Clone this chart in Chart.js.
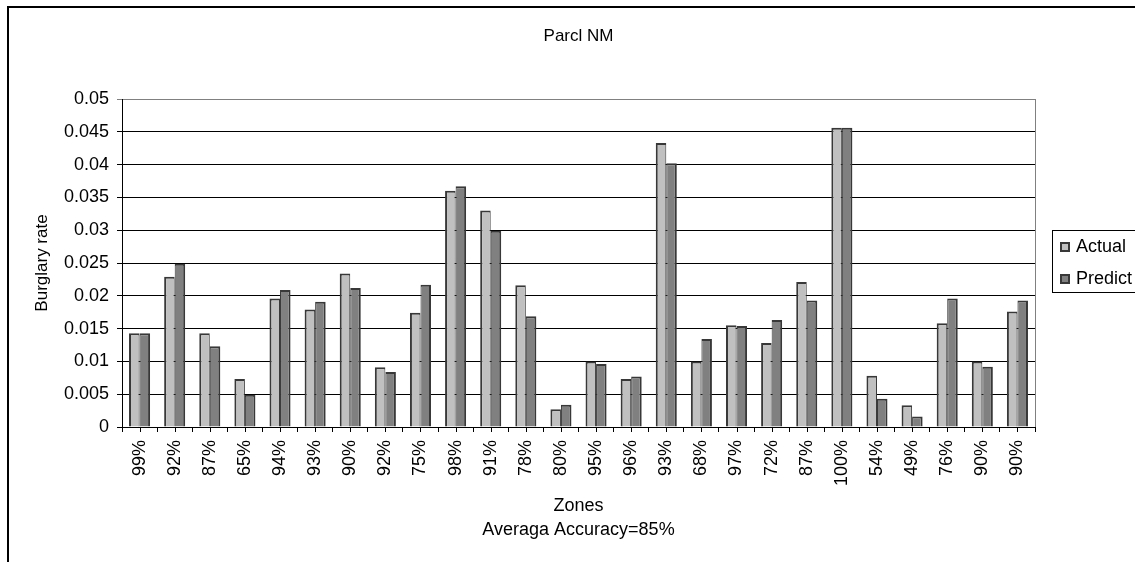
<!DOCTYPE html>
<html>
<head>
<meta charset="utf-8">
<title>Parcl NM</title>
<script src="https://cdn.jsdelivr.net/npm/chart.js@4.4.1/dist/chart.umd.min.js"></script>
<style>
  html, body { margin: 0; padding: 0; background: #fff; }
  #wrap { position: relative; width: 1135px; height: 562px; overflow: hidden; }
  canvas { display: block; }
</style>
</head>
<body>
<div id="wrap"><canvas id="chart" width="1135" height="562"></canvas></div>
<script>
// Zone labels (per-zone prediction accuracy)
const zones = ['99%', '92%', '87%', '65%', '94%', '93%', '90%', '92%', '75%', '98%', '91%', '78%', '80%',
               '95%', '96%', '93%', '68%', '97%', '72%', '87%', '100%', '54%', '49%', '76%', '90%', '90%'];

// Burglary rate per zone
const actual = [0.0143, 0.0229, 0.0143, 0.0073, 0.0196, 0.0179, 0.0234, 0.0091, 0.0174, 0.0360, 0.0330, 0.0216, 0.0027,
                0.0100, 0.0073, 0.0433, 0.0100, 0.0155, 0.0128, 0.0221, 0.0456, 0.0078, 0.0033, 0.0158, 0.0100, 0.0176];
const predict = [0.0143, 0.0249, 0.0123, 0.0049, 0.0209, 0.0191, 0.0212, 0.0084, 0.0217, 0.0367, 0.0299, 0.0169, 0.0034,
                 0.0096, 0.0077, 0.0402, 0.0134, 0.0154, 0.0163, 0.0193, 0.0456, 0.0043, 0.0016, 0.0196, 0.0092, 0.0193];

const seriesNames = ['Actual', 'Predict'];
const yTickLabels = ['0', '0.005', '0.01', '0.015', '0.02', '0.025', '0.03', '0.035', '0.04', '0.045', '0.05'];
const chartTitle = 'Parcl NM';
const yTitle = 'Burglary rate';
const xTitle = ['Zones', 'Averaga Accuracy=85%'];

const FONT = "'Liberation Sans', Arial, Helvetica, sans-serif";
const FILLS = ['#c0c0c0', '#808080'];
const EDGE = '#383838';

// Outer chart frame and plot-area border
const framePlugin = {
  id: 'frame',
  beforeDraw(chart) {
    const ctx = chart.ctx;
    ctx.save();
    ctx.fillStyle = '#fff';
    ctx.fillRect(0, 0, chart.width, chart.height);
    ctx.strokeStyle = '#000';
    ctx.lineWidth = 2;
    ctx.beginPath();
    ctx.moveTo(8, chart.height + 2);
    ctx.lineTo(8, 7);
    ctx.lineTo(chart.width + 2, 7);
    ctx.stroke();
    ctx.restore();
  },
  beforeDatasetsDraw(chart) {
    const a = chart.chartArea, ctx = chart.ctx;
    ctx.save();
    ctx.strokeStyle = '#808080';
    ctx.lineWidth = 1;
    ctx.beginPath();
    ctx.moveTo(Math.round(a.right) + 0.5, a.top);
    ctx.lineTo(Math.round(a.right) + 0.5, a.bottom);
    ctx.stroke();
    ctx.restore();
  }
};

// Extra tick marks under each category centre
const centerTicks = {
  id: 'centerTicks',
  afterDraw(chart) {
    const x = chart.scales.x, ctx = chart.ctx;
    const y0 = chart.chartArea.bottom;
    ctx.save();
    ctx.strokeStyle = '#000';
    ctx.lineWidth = 1;
    ctx.beginPath();
    for (let i = 0; i < zones.length; i++) {
      const px = Math.round(x.getPixelForTick(i)) + 0.5;
      ctx.moveTo(px, y0);
      ctx.lineTo(px, y0 + 5);
    }
    ctx.stroke();
    ctx.restore();
  }
};

// Boxed legend to the right of the plot
const boxedLegend = {
  id: 'boxedLegend',
  afterDraw(chart) {
    const a = chart.chartArea, ctx = chart.ctx;
    const left = Math.round(a.right) + 17;
    const cy = (a.top + a.bottom) / 2 - 2;
    const h = 62, top = Math.round(cy - h / 2);
    ctx.save();
    ctx.strokeStyle = '#000';
    ctx.lineWidth = 1;
    ctx.strokeRect(left + 0.5, top + 0.5, chart.width - left + 10, h);
    ctx.font = '18px ' + FONT;
    ctx.textBaseline = 'middle';
    chart.data.datasets.forEach((ds, i) => {
      const rowY = top + 17 + i * 32;
      ctx.fillStyle = EDGE;
      ctx.fillRect(left + 8, rowY - 5, 10, 10);
      ctx.fillStyle = ds.backgroundColor;
      ctx.fillRect(left + 10, rowY - 3, 6, 6);
      ctx.fillStyle = '#000';
      ctx.fillText(ds.label, left + 24, rowY);
    });
    ctx.restore();
  }
};

new Chart(document.getElementById('chart'), {
  type: 'bar',
  data: {
    labels: zones,
    datasets: [
      {
        label: seriesNames[0], data: actual,
        backgroundColor: FILLS[0], borderColor: EDGE,
        borderWidth: { top: 2, left: 2, right: 1, bottom: 0 }, borderSkipped: 'start'
      },
      {
        label: seriesNames[1], data: predict,
        backgroundColor: FILLS[1], borderColor: EDGE,
        borderWidth: { top: 2, left: 1, right: 2, bottom: 0 }, borderSkipped: 'start'
      }
    ]
  },
  options: {
    responsive: false,
    animation: false,
    devicePixelRatio: 1,
    events: [],
    datasets: { bar: { categoryPercentage: 0.6, barPercentage: 1.0 } },
    layout: { padding: { left: 0, right: 100, top: 0, bottom: 0 } },
    plugins: {
      legend: { display: false },
      tooltip: { enabled: false },
      title: {
        display: true, fullSize: false, text: chartTitle, color: '#000',
        font: { family: FONT, size: 17, weight: 'normal', lineHeight: 1.2 },
        padding: { top: 26, bottom: 52.6 }
      }
    },
    scales: {
      x: {
        offset: true,
        afterFit(scale) { scale.height = 135; },
        grid: { offset: true, drawOnChartArea: false, drawTicks: true, tickLength: 5, color: '#000', lineWidth: 1 },
        border: { display: true, color: '#000', width: 1 },
        ticks: {
          color: '#000', autoSkip: false, minRotation: 90, maxRotation: 90, padding: 8,
          font: { family: FONT, size: 18 }
        },
        title: {
          display: true, text: xTitle, color: '#000',
          font: { family: FONT, size: 18, lineHeight: '24px' },
          padding: { top: 0, bottom: 20 }
        }
      },
      y: {
        min: 0, max: 0.05,
        afterFit(scale) { scale.width = 122; },
        afterBuildTicks(scale) {
          scale.ticks = yTickLabels.map(t => ({ value: parseFloat(t) }));
        },
        grid: {
          drawTicks: true, tickLength: 5, lineWidth: 1,
          color: ctx => (ctx.tick && ctx.tick.value >= 0.05 ? '#808080' : '#000')
        },
        border: { display: true, color: '#000', width: 1 },
        ticks: {
          color: '#000', padding: 8,
          font: { family: FONT, size: 18 },
          callback: (v, i) => yTickLabels[i]
        },
        title: {
          display: true, text: yTitle, color: '#000',
          font: { family: FONT, size: 17, lineHeight: 1.2 },
          padding: { top: 32, bottom: 0 }
        }
      }
    }
  },
  plugins: [framePlugin, centerTicks, boxedLegend]
});
</script>
</body>
</html>
